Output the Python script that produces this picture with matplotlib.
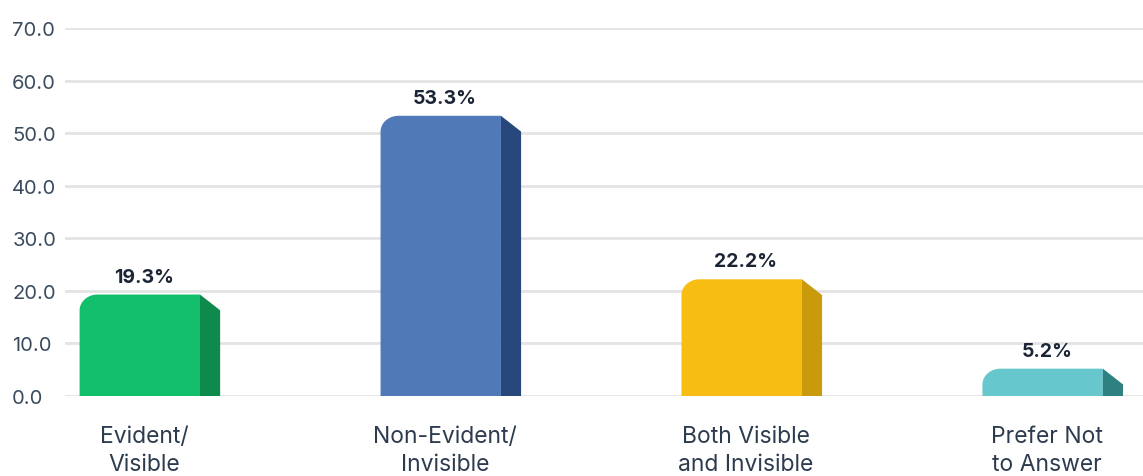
import matplotlib
matplotlib.use("Agg")
import matplotlib.pyplot as plt
from matplotlib.patches import Polygon
import numpy as np

categories = ["Evident/\nVisible", "Non-Evident/\nInvisible", "Both Visible\nand Invisible", "Prefer Not\nto Answer"]
values = [19.3, 53.3, 22.2, 5.2]
value_labels = ["19.3%", "53.3%", "22.2%", "5.2%"]
yticks = [0, 10, 20, 30, 40, 50, 60, 70]
ytick_labels = ["0.0", "10.0", "20.0", "30.0", "40.0", "50.0", "60.0", "70.0"]
front_colors = ["#13BF6A", "#5079B8", "#F8BD12", "#66C8CC"]
side_colors = ["#0E8B4C", "#28477A", "#C89A0C", "#2F8080"]

plt.rcParams['font.family'] = ['Inter', 'DejaVu Sans']

fig = plt.figure(figsize=(11.43, 4.77), dpi=100)
ax = fig.add_axes([65/1143, 80/477, 1 - 65/1143, 368/477])
ax.set_xlim(-0.282, 3.3)
ax.set_ylim(0, 70)

for s in ax.spines.values():
    s.set_visible(False)
ax.set_yticks(yticks)
ax.set_yticklabels(ytick_labels)
ax.tick_params(axis='y', length=0, pad=38, labelsize=14.5, labelcolor="#3B4B5E")
for lbl in ax.get_yticklabels():
    lbl.set_horizontalalignment('left')
ax.set_xticks([])
ax.grid(axis='y', color="#E3E3E3", linewidth=2)
ax.set_axisbelow(True)

front_w = 0.40
side_w = 0.067
drop = 3.0
rx, ry = 0.06, 3.0

for i, (v, fc, sc) in enumerate(zip(values, front_colors, side_colors)):
    x0 = i - (front_w + side_w) / 2
    x1 = x0 + front_w
    x2 = x1 + side_w
    ryy = min(ry, v * 0.6)
    t = np.linspace(np.pi, np.pi / 2, 20)
    arc_x = (x0 + rx) + rx * np.cos(t)
    arc_y = (v - ryy) + ryy * np.sin(t)
    xs = [x0] + list(arc_x) + [x1, x1, x0]
    ys = [0] + list(arc_y) + [v, 0, 0]
    ax.add_patch(Polygon(np.column_stack([xs, ys]), closed=True, facecolor=fc, edgecolor='none', zorder=3))
    side = [(x1, 0), (x1, v), (x2, v - min(drop, v * 0.6)), (x2, 0)]
    ax.add_patch(Polygon(side, closed=True, facecolor=sc, edgecolor='none', zorder=3))
    ax.text(i - 0.02, v + 1.7, value_labels[i], ha='center', va='bottom', fontsize=14,
            fontweight='bold', color="#1C2535", zorder=4)
    ax.text(i - 0.02, -5.5, categories[i], ha='center', va='top', fontsize=16.5,
            color="#2D3B4E", linespacing=1.34, zorder=4)

fig.savefig("out.png", dpi=100)
